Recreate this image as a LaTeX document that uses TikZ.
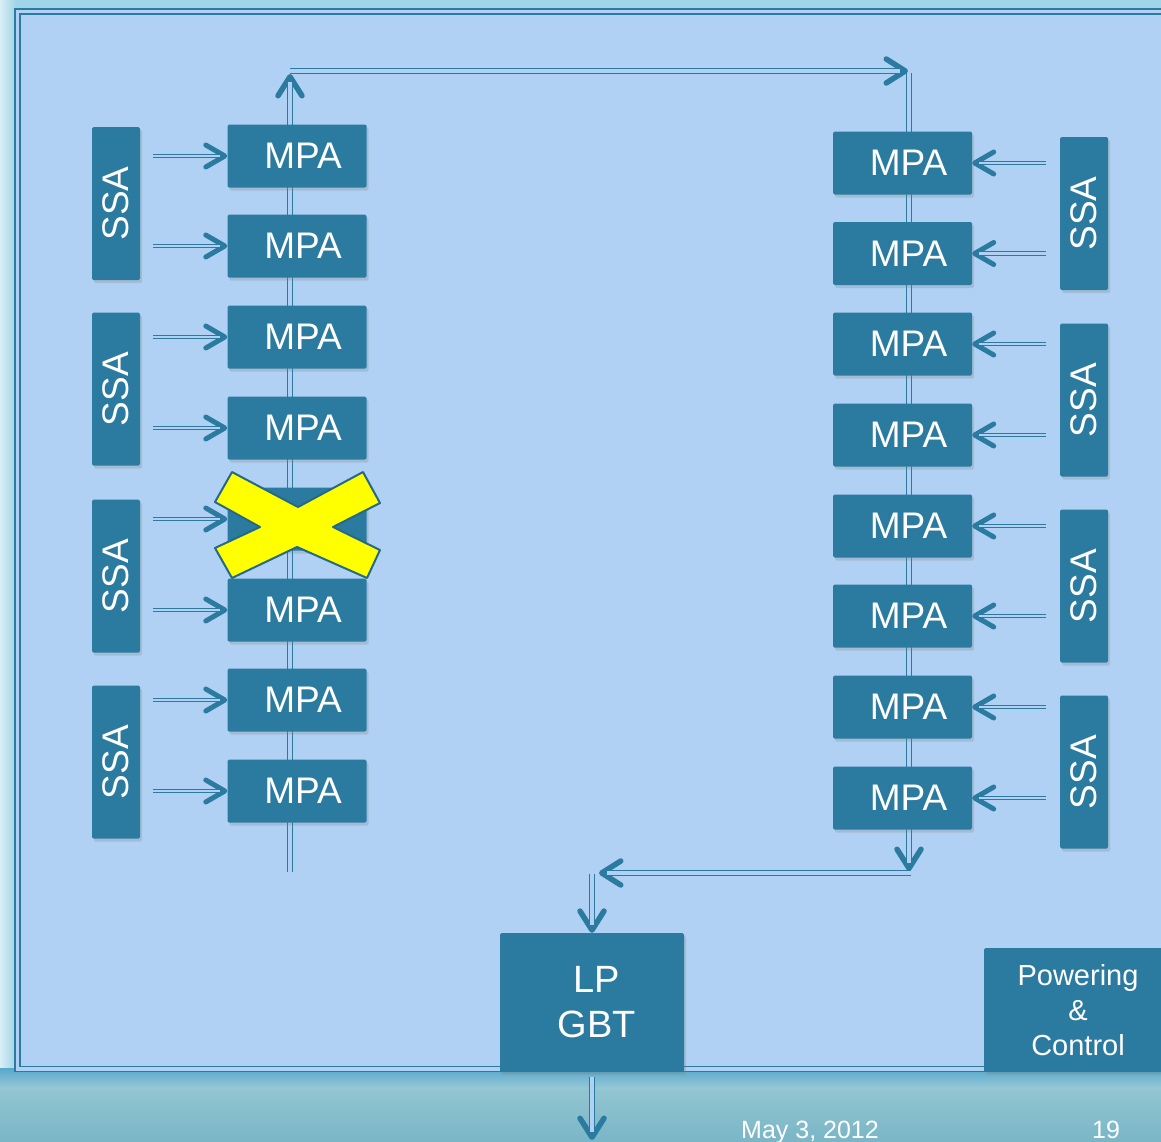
\documentclass[tikz,border=0pt]{standalone}
\usepackage{fontspec}
\setmainfont{Liberation Sans}
\usetikzlibrary{arrows.meta,calc,shadows}
\definecolor{slide}{RGB}{160,212,232}
\definecolor{panel}{RGB}{176,209,243}
\definecolor{chip}{RGB}{43,123,160}
\definecolor{seaA}{RGB}{86,168,206}
\definecolor{seaB}{RGB}{150,200,212}
\definecolor{seaC}{RGB}{122,182,198}
\definecolor{cross}{RGB}{255,255,0}
\newcommand{\boxfont}{\fontsize{37}{44}\selectfont}
\tikzset{chev/.tip={Straight Barb[length=19pt,width=22pt,line width'=5pt,round]},
  bigchev/.tip={Straight Barb[length=19pt,width=24pt,line width'=5.5pt,round]}}

\begin{document}
\begin{tikzpicture}[x=1pt,y=-1pt,
  blk/.style={fill=chip,text=white,rounded corners=1.5pt,inner sep=0pt,
    drop shadow={shadow xshift=2pt,shadow yshift=-3pt,opacity=0.25}},
  mpa/.style={blk,minimum width=139pt,minimum height=63pt,font=\boxfont,execute at begin node={\hspace*{12pt}}},
  ssa/.style={blk,minimum width=48pt,minimum height=153pt,font=\boxfont},
  bus/.style={draw=chip,line width=6pt,-{bigchev},postaction={draw=panel,line width=3.2pt,-,shorten >=8pt}},
  feed/.style={draw=chip,line width=4.4pt,-{chev},postaction={draw=panel,line width=2.2pt,-,shorten >=7pt}}]
  \useasboundingbox (0,0) rectangle (1161,1141);
  \clip (0,0) rectangle (1161,1141);
  % slide background
  \fill[slide] (0,0) rectangle (1161,1141);
  \shade[left color=slide!40!white,right color=slide] (0,0) rectangle (16,1075);
  \shade[top color=seaB,bottom color=seaC] (0,1080) rectangle (1161,1141);
  \shade[top color=seaA,bottom color=seaB] (0,1068) rectangle (1161,1088);
  \filldraw[draw=chip,fill=panel,double=panel,double distance=3.5pt,line width=1.5pt]
    (17.5,11.5) rectangle (1190,1069);
  % bus ends
  \coordinate (upB) at (290,872);
  \coordinate (upT) at (290,74);
  \coordinate (topL) at (290,71);
  \coordinate (topR) at (908,71);
  \coordinate (dnT) at (909,73);
  \coordinate (dnB) at (909,871);
  \coordinate (backR) at (911,873);
  \coordinate (backL) at (599,873);
  \coordinate (lpIn) at (592,874);
  \coordinate (lpOut) at (592,1140);
  \draw[bus] (upB) -- (upT); \draw[bus] (topL) -- (topR);
  \draw[bus] (dnT) -- (dnB); \draw[bus] (backR) -- (backL);
  % left chain
  \node[mpa] (lm1) at (297,156) {MPA};
  \node[mpa] (lm2) at (297,246) {MPA};
  \node[mpa] (lm3) at (297,337) {MPA};
  \node[mpa] (lm4) at (297,428) {MPA};
  \node[mpa] (lm5) at (297,519) {};
  \node[mpa] (lm6) at (297,610) {MPA};
  \node[mpa] (lm7) at (297,700) {MPA};
  \node[mpa] (lm8) at (297,791) {MPA};
  \node[ssa] (ls1) at (116,203.5) {\rotatebox{90}{SSA}};
  \node[ssa] (ls2) at (116,389) {\rotatebox{90}{SSA}};
  \node[ssa] (ls3) at (116,576) {\rotatebox{90}{SSA}};
  \node[ssa] (ls4) at (116,762) {\rotatebox{90}{SSA}};
  % right chain
  \node[mpa] (rm1) at (902.5,163) {MPA};
  \node[mpa] (rm2) at (902.5,253.5) {MPA};
  \node[mpa] (rm3) at (902.5,344) {MPA};
  \node[mpa] (rm4) at (902.5,435) {MPA};
  \node[mpa] (rm5) at (902.5,526) {MPA};
  \node[mpa] (rm6) at (902.5,616) {MPA};
  \node[mpa] (rm7) at (902.5,707) {MPA};
  \node[mpa] (rm8) at (902.5,798) {MPA};
  \node[ssa] (rs1) at (1084,213.5) {\rotatebox{90}{SSA}};
  \node[ssa] (rs2) at (1084,400) {\rotatebox{90}{SSA}};
  \node[ssa] (rs3) at (1084,586) {\rotatebox{90}{SSA}};
  \node[ssa] (rs4) at (1084,772) {\rotatebox{90}{SSA}};
  % SSA -> MPA feeds
  \draw[feed] ($(ls1.east |- lm1)+(13,0)$) -- (lm1); \draw[feed] ($(ls1.east |- lm2)+(13,0)$) -- (lm2);
  \draw[feed] ($(ls2.east |- lm3)+(13,0)$) -- (lm3); \draw[feed] ($(ls2.east |- lm4)+(13,0)$) -- (lm4);
  \draw[feed] ($(ls3.east |- lm5)+(13,0)$) -- (lm5); \draw[feed] ($(ls3.east |- lm6)+(13,0)$) -- (lm6);
  \draw[feed] ($(ls4.east |- lm7)+(13,0)$) -- (lm7); \draw[feed] ($(ls4.east |- lm8)+(13,0)$) -- (lm8);
  \draw[feed] ($(rs1.west |- rm1)+(-14,0)$) -- (rm1); \draw[feed] ($(rs1.west |- rm2)+(-14,0)$) -- (rm2);
  \draw[feed] ($(rs2.west |- rm3)+(-14,0)$) -- (rm3); \draw[feed] ($(rs2.west |- rm4)+(-14,0)$) -- (rm4);
  \draw[feed] ($(rs3.west |- rm5)+(-14,0)$) -- (rm5); \draw[feed] ($(rs3.west |- rm6)+(-14,0)$) -- (rm6);
  \draw[feed] ($(rs4.west |- rm7)+(-14,0)$) -- (rm7); \draw[feed] ($(rs4.west |- rm8)+(-14,0)$) -- (rm8);
  % failed MPA
  \filldraw[fill=cross,draw=chip!85!black,line width=2pt,line join=round]
    (215,502) -- (232,472) -- (298,507) -- (363,472) -- (380,503) -- (333,527) -- (380,550)
    -- (367,578) -- (297,547) -- (232,578) -- (215,548) -- (260,527) -- cycle;
  % readout
  \node[blk,minimum width=184pt,minimum height=139pt,font=\fontsize{38}{45}\selectfont,align=center]
    (lp) at (592,1002.5) {\hspace*{10pt}LP\\\hspace*{10pt}GBT};
  \node[blk,minimum width=188pt,minimum height=124pt,font=\fontsize{29}{35}\selectfont,align=center]
    (pwr) at (1078,1010) {Powering\\\&\\Control};
  \draw[bus] (lpIn) -- (lp); \draw[bus,shorten <=5pt] (lp) -- (lpOut);
  \node[text=white,font=\fontsize{25}{30}\selectfont,anchor=base west,inner sep=0pt] (date) at (741,1138) {May 3, 2012};
  \node[text=white,font=\fontsize{25}{30}\selectfont,anchor=base west,inner sep=0pt] (page) at (1092,1138) {19};
\end{tikzpicture}
\end{document}
